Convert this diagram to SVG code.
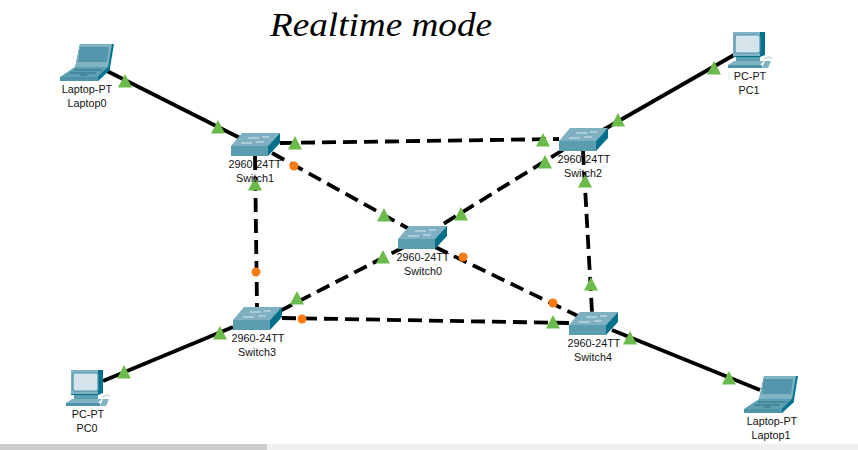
<svg xmlns="http://www.w3.org/2000/svg" width="858" height="450" viewBox="0 0 858 450">
<style>
.solid{stroke:#000;stroke-width:3.8;fill:none}
.dash{stroke:#000;stroke-width:3.8;fill:none;stroke-dasharray:14 7}
.up{fill:#6cbb4a}
.dn{fill:#fb7a12}
text{font-family:"Liberation Sans",Arial,sans-serif;font-size:10.8px;fill:#111;text-anchor:middle}
.hand{font-family:"Liberation Serif",serif;font-style:italic;font-size:34px;text-anchor:start;fill:#000}
</style>
<defs>
<g id="sw">
<path d="M0 13L11 0H49L37 13Z" fill="#7eb0c2"/>
<path d="M0 13H37V23H0Z" fill="#5a9db1"/>
<path d="M37 13L49 0V10L37 23Z" fill="#04708c"/>
<path d="M17 5H28M31 4H38M10 10H21M25 9H33" stroke="#d8e8ee" stroke-width="1" fill="none"/>
</g>
<g id="lap">
<path d="M20 0H54L50 24L38 37L36 33L46 24H15Z" fill="#057490"/>
<path d="M20 0H52L48 23H15Z" fill="#7fb2c3"/>
<path d="M20 3H49L47 18H18Z" fill="#5496ac"/>
<path d="M15 23H48L38 33H0Z" fill="#5c9eb2"/>
<path d="M48 23H50V26L38 37V33Z" fill="#057490"/>
<path d="M0 33H38V37H0Z" fill="#4f93a9"/>
<path d="M14 26H42M10 29H36M20 31H27" stroke="#2f7488" stroke-width="1" fill="none"/>
</g>
<g id="pc">
<path d="M5 0H37V23L32 25H5Z" fill="#04708c"/>
<path d="M5 0H32V24H5Z" fill="#7fb2c3"/>
<rect x="7" y="3" width="25" height="18" rx="2" fill="#d5e3ea" stroke="#4f93a9" stroke-width="1.2"/>
<path d="M8 25H32V29H8Z" fill="#5c9eb2"/>
<path d="M6 29H36L32 33H0Z" fill="#7fb2c3"/>
<path d="M0 33H34V36H0Z" fill="#4f93a9"/>
<path d="M36 27Q43 23 44 27" stroke="#a9c6d1" fill="none"/>
<path d="M37 29H43L40 36H34Z" fill="#7fb2c3"/>
</g>
<path id="t" d="M0 -7L7 6.500H-7Z"/>
</defs>
<rect width="858" height="450" fill="#fff"/>
<g id="connectors">
<path class="solid" d="M107 71L242 139"/>
<path class="solid" d="M734 55L603 130"/>
<path class="solid" d="M103 381L233 327"/>
<path class="solid" d="M612 330L760 390"/>
<path class="dash" d="M280 143L559 139"/>
<path class="dash" d="M272 153L420 235"/>
<path class="dash" d="M563 150L440 226"/>
<path class="dash" d="M255 156L257 307"/>
<path class="dash" d="M583 151L592 312"/>
<path class="dash" d="M404 247L278 312"/>
<path class="dash" d="M435 247L578 316"/>
<path class="dash" d="M282 318L570 323"/>
</g>
<g id="links-status">
<use href="#t" class="up" x="125" y="81"/><use href="#t" class="up" x="218" y="127"/>
<use href="#t" class="up" x="295" y="143"/><use href="#t" class="up" x="543" y="140"/>
<circle class="dn" cx="294" cy="166" r="4.5"/><use href="#t" class="up" x="384" y="215"/>
<use href="#t" class="up" x="545" y="162"/><use href="#t" class="up" x="461" y="214"/>
<use href="#t" class="up" x="255" y="184"/><circle class="dn" cx="256" cy="272" r="4.5"/>
<use href="#t" class="up" x="585" y="181"/><use href="#t" class="up" x="591" y="284"/>
<use href="#t" class="up" x="383" y="257"/><use href="#t" class="up" x="297" y="298"/>
<circle class="dn" cx="463" cy="257" r="4.5"/><circle class="dn" cx="553" cy="303" r="4.5"/>
<circle class="dn" cx="302" cy="319" r="4.5"/><use href="#t" class="up" x="553" y="322"/>
<use href="#t" class="up" x="220" y="333"/><use href="#t" class="up" x="124" y="372"/>
<use href="#t" class="up" x="714" y="68"/><use href="#t" class="up" x="618" y="120"/>
<use href="#t" class="up" x="729" y="378"/><use href="#t" class="up" x="630" y="338"/>
</g>
<g id="Laptop0"><use href="#lap" x="60" y="44"/><text x="87" y="93">Laptop-PT</text><text x="87" y="107">Laptop0</text></g>
<g id="Laptop1"><use href="#lap" x="744" y="376"/><text x="772" y="425">Laptop-PT</text><text x="771" y="439">Laptop1</text></g>
<g id="PC0"><use href="#pc" x="66" y="370"/><text x="88" y="418">PC-PT</text><text x="87" y="432">PC0</text></g>
<g id="PC1"><use href="#pc" x="728" y="32"/><text x="750" y="80">PC-PT</text><text x="749" y="94">PC1</text></g>
<g id="Switch0"><use href="#sw" x="398" y="226"/><text x="423" y="261">2960-24TT</text><text x="423" y="275">Switch0</text></g>
<g id="Switch1"><use href="#sw" x="231" y="133"/><text x="255" y="168">2960-24TT</text><text x="255" y="182">Switch1</text></g>
<g id="Switch2"><use href="#sw" x="559" y="128"/><text x="584" y="163">2960-24TT</text><text x="583" y="177">Switch2</text></g>
<g id="Switch3"><use href="#sw" x="233" y="307"/><text x="258" y="342">2960-24TT</text><text x="257" y="356">Switch3</text></g>
<g id="Switch4"><use href="#sw" x="569" y="312"/><text x="594" y="347">2960-24TT</text><text x="593" y="361">Switch4</text></g>
<text class="hand" x="270" y="36" textLength="222" lengthAdjust="spacingAndGlyphs">Realtime mode</text>
<g id="scrollbar"><rect x="0" y="444" width="858" height="6" fill="#f0f0f0"/><rect x="0" y="444" width="267" height="6" fill="#cdcdcd"/></g>
</svg>
